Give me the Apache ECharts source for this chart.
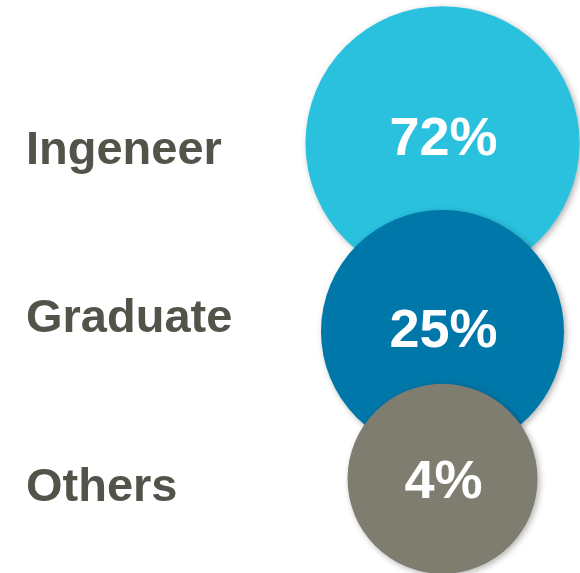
<!DOCTYPE html>
<html><head><meta charset="utf-8">
<script src="https://cdn.jsdelivr.net/npm/echarts@6/dist/echarts.min.js"></script>
<style>html,body{margin:0;padding:0;background:#fff}#c{width:580px;height:573px}</style>
</head><body><div id="c"></div>
<script>
// data
const categories = ['Ingeneer', 'Graduate', 'Others'];
const percents = [72, 25, 4];

// styles
const colors = ['#29C1DE', '#0077A9', '#7F7D70'];
const diameters = [274, 243, 190];
const circleShift = [-8, 12, -9];
const labelShift = [-3, 0.5, 4.5];
const FONT = 'Liberation Sans, Arial, sans-serif';

const chart = echarts.init(document.getElementById('c'), null, {renderer: 'canvas'});
chart.setOption({
  animation: false,
  grid: {left: 305, right: 0, top: 67, bottom: 1},
  xAxis: {type: 'category', data: [''], show: false},
  yAxis: {
    type: 'category', data: categories, inverse: true,
    axisLine: {show: false}, axisTick: {show: false}, splitLine: {show: false},
    axisLabel: {
      align: 'left', margin: 279, fontFamily: FONT, fontWeight: 'bold',
      fontSize: 47, color: '#54534A', padding: [6, 0, 0, 0]
    }
  },
  series: [{
    type: 'scatter',
    data: categories.map((c, i) => ({
      value: [0, c, percents[i]],
      symbolSize: diameters[i],
      symbolOffset: [0, circleShift[i]],
      itemStyle: {color: colors[i]},
      label: {offset: [1, labelShift[i]]}
    })),
    itemStyle: {opacity: 1, shadowBlur: 6, shadowColor: 'rgba(0,0,0,0.3)', shadowOffsetX: 2, shadowOffsetY: 2},
    label: {
      show: true, position: 'inside', formatter: p => p.value[2] + '%',
      fontFamily: FONT, fontWeight: 'bold', fontSize: 54, color: '#fff'
    },
    emphasis: {disabled: true}
  }]
});
</script></body></html>
